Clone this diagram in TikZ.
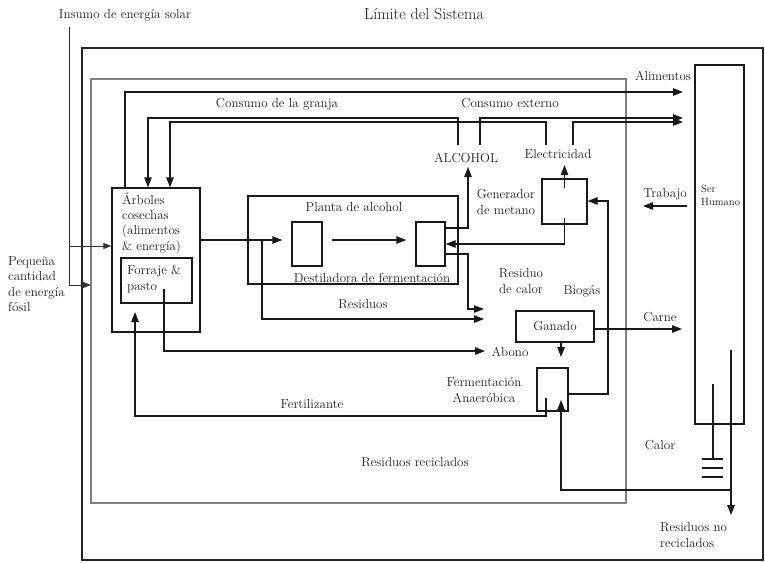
\documentclass[tikz,border=0pt]{standalone}
\usetikzlibrary{arrows.meta,calc}
\begin{document}
\begin{tikzpicture}[x=1pt,y=-1pt,
  every node/.style={font=\fontsize{13}{15.3}\selectfont, inner sep=0pt, text=black!88},
  ln/.style={line width=1.3pt, draw=black!90},
  arr/.style={ln, -{Triangle[length=10pt,width=7.5pt]}},
  sline/.style={line width=0.9pt, draw=black!80},
  sarr/.style={sline, -{Triangle[length=8pt,width=6pt]}},
  box/.style={draw=black!90, line width=1.3pt, rectangle, inner sep=0pt},
  gbar/.style={line width=2.6pt, draw=black!90},
]
\useasboundingbox (0,0) rectangle (765,562);

% system boundaries
\draw[line width=1.8pt, draw=black!85] (82,48) rectangle (763,560);
\draw[line width=1.2pt, draw=black!50] (91,79) rectangle (626,503);

% titles
\node (tsolar) at (125,15) {Insumo de energía solar};
\node[font=\fontsize{16}{19}\selectfont] (ttitle) at (424,14) {Límite del Sistema};
\node[align=left, anchor=west] (tfosil) at (8,284) {Pequeña\\cantidad\\de energía\\fósil};

% boxes
\node[box, minimum width=88pt, minimum height=144pt] (arbol) at (156,260) {};
\node[box, minimum width=71pt, minimum height=45pt] (forraje) at (156.5,280.5) {};
\node[align=left, anchor=west] (tarbol) at (122,223) {Árboles\\cosechas\\(alimentos\\\& energía)};
\node[align=left, anchor=west] (tforr) at (127,279) {Forraje \&\\pasto};

\node[box, minimum width=210pt, minimum height=88pt] (planta) at (353,240) {};
\node[box, minimum width=30pt, minimum height=44pt] (dl) at (307,244) {};
\node[box, minimum width=29pt, minimum height=44pt] (dr) at (430.5,244) {};
\node (tplanta) at (354,207) {Planta de alcohol};
\node (tdest) at (372,278) {Destiladora de fermentación};

\node[box, minimum width=45pt, minimum height=45pt] (gen) at (564.5,201.5) {};
\node[align=left] (tgen) at (506,202) {Generador\\de metano};
\node[box, minimum width=78pt, minimum height=31pt] (ganado) at (555,326.5) {Ganado};
\node[box, minimum width=31pt, minimum height=43pt] (ferm) at (552.5,389.5) {};
\node[align=center] (tferm) at (484,390) {Fermentación\\Anaeróbica};
\node[box, minimum width=49pt, minimum height=359pt] (ser) at (719.5,244.5) {};
\node[font=\fontsize{10.5}{13}\selectfont, align=left, anchor=west] (tser) at (701,195) {Ser\\Humano};

% labels
\node (talim) at (663,76) {Alimentos};
\node (tcg) at (277,104) {Consumo de la granja};
\node (tce) at (510,103) {Consumo externo};
\node (talc) at (466,158) {ALCOHOL};
\node (telec) at (558,154) {Electricidad};
\node (ttrab) at (665,194) {Trabajo};
\node (tres) at (363,304) {Residuos};
\node[align=center] (trc) at (521,281) {Residuo\\de calor};
\node (tbio) at (582,291) {Biogás};
\node (tcarne) at (660,317) {Carne};
\node (tabono) at (510,352) {Abono};
\node (tfert) at (312,404) {Fertilizante};
\node (tcalor) at (660,445) {Calor};
\node (trr) at (415,462) {Residuos reciclados};
\node[align=left, anchor=west] (trnr) at (660,535) {Residuos no\\reciclados};

% solar / fossil input
\coordinate (s0) at (69,27);
\coordinate (s1) at (69,285);
\coordinate (s2) at (91,285);
\coordinate (f0) at (69,246);
\draw[sarr] (s0) -- (s1) -- (s2);
\draw[sarr] (f0) -- (f0 -| arbol.west);

% Alimentos
\coordinate (al0) at (125,92);
\coordinate (alE) at (683,92);
\draw[arr] (arbol.north -| al0) -- (al0) -- (alE);

% Consumo de la granja / externo
\coordinate (cg1) at (148,118);
\coordinate (cg2) at (170,122);
\coordinate (alc1) at (458,145);
\coordinate (alc2) at (480,145);
\coordinate (el1) at (546,145);
\coordinate (el2) at (573,145);
\coordinate (ce1) at (683,118);
\coordinate (ce2) at (683,122);
\draw[arr] (alc1) |- (cg1) -- (cg1 |- arbol.north);
\draw[arr] (el1) |- (cg2) -- (cg2 |- arbol.north);
\draw[arr] (alc2) |- (ce1);
\draw[arr] (el2) |- (ce2);

% alcohol plant
\coordinate (yA) at (0,240);
\draw[arr, shorten >=9pt] (arbol.east |- yA) -- (dl.west |- yA);
\draw[arr, shorten <=9pt, shorten >=9pt] (dl.east |- yA) -- (dr.west |- yA);
\coordinate (r0) at (262,240);
\coordinate (r1) at (484,319);
\draw[arr] (r0) |- (r1);
\coordinate (rc1) at (468,254);
\coordinate (rc2) at (484,309);
\draw[arr] (dr.east |- rc1) -- (rc1) |- (rc2);
\coordinate (ak) at (468,167);
\draw[arr] (dr.east |- 0,228) -| (ak);

% methane generator
\draw[arr] (gen.south |- 0,218) |- (dr.east);
\draw[arr] (gen.center |- 0,188) -- (gen.center |- 0,165);
\coordinate (bg1) at (608,394);
\coordinate (bg2) at (608,201);
\draw[arr] (ferm.east |- bg1) -- (bg1) -- (bg2) -- (gen.east |- bg2);

% ganado
\coordinate (cn) at (682,329);
\draw[arr] (ganado.east |- cn) -- (cn);
\coordinate (gd) at (561,357);
\draw[arr] (ganado.south -| gd) -- (gd);

% abono, fertilizante
\coordinate (ab0) at (164,289);
\coordinate (ab1) at (485,351);
\draw[arr] (ab0) |- (ab1);
\coordinate (fz0) at (546,398);
\coordinate (fz) at (135,416);
\draw[arr] (fz0) |- (fz) -- (fz |- 0,312);

% trabajo
\coordinate (tr0) at (687,206);
\coordinate (tr1) at (643,206);
\draw[arr] (tr0) -- (tr1);

% calor / ground
\coordinate (ca0) at (713,384);
\coordinate (ca1) at (713,459);
\draw[ln] (ca0) -- (ca1);
\draw[gbar] (702,459) -- (723,459);
\draw[gbar] (702,468) -- (723,468);
\draw[gbar] (702,477) -- (723,477);

% residuos
\coordinate (rw0) at (731,350);
\coordinate (rw1) at (731,515);
\coordinate (rw2) at (731,490);
\coordinate (rw3) at (561,400);
\draw[arr] (rw0) -- (rw1);
\draw[arr] (rw2) -| (rw3);
\end{tikzpicture}
\end{document}
